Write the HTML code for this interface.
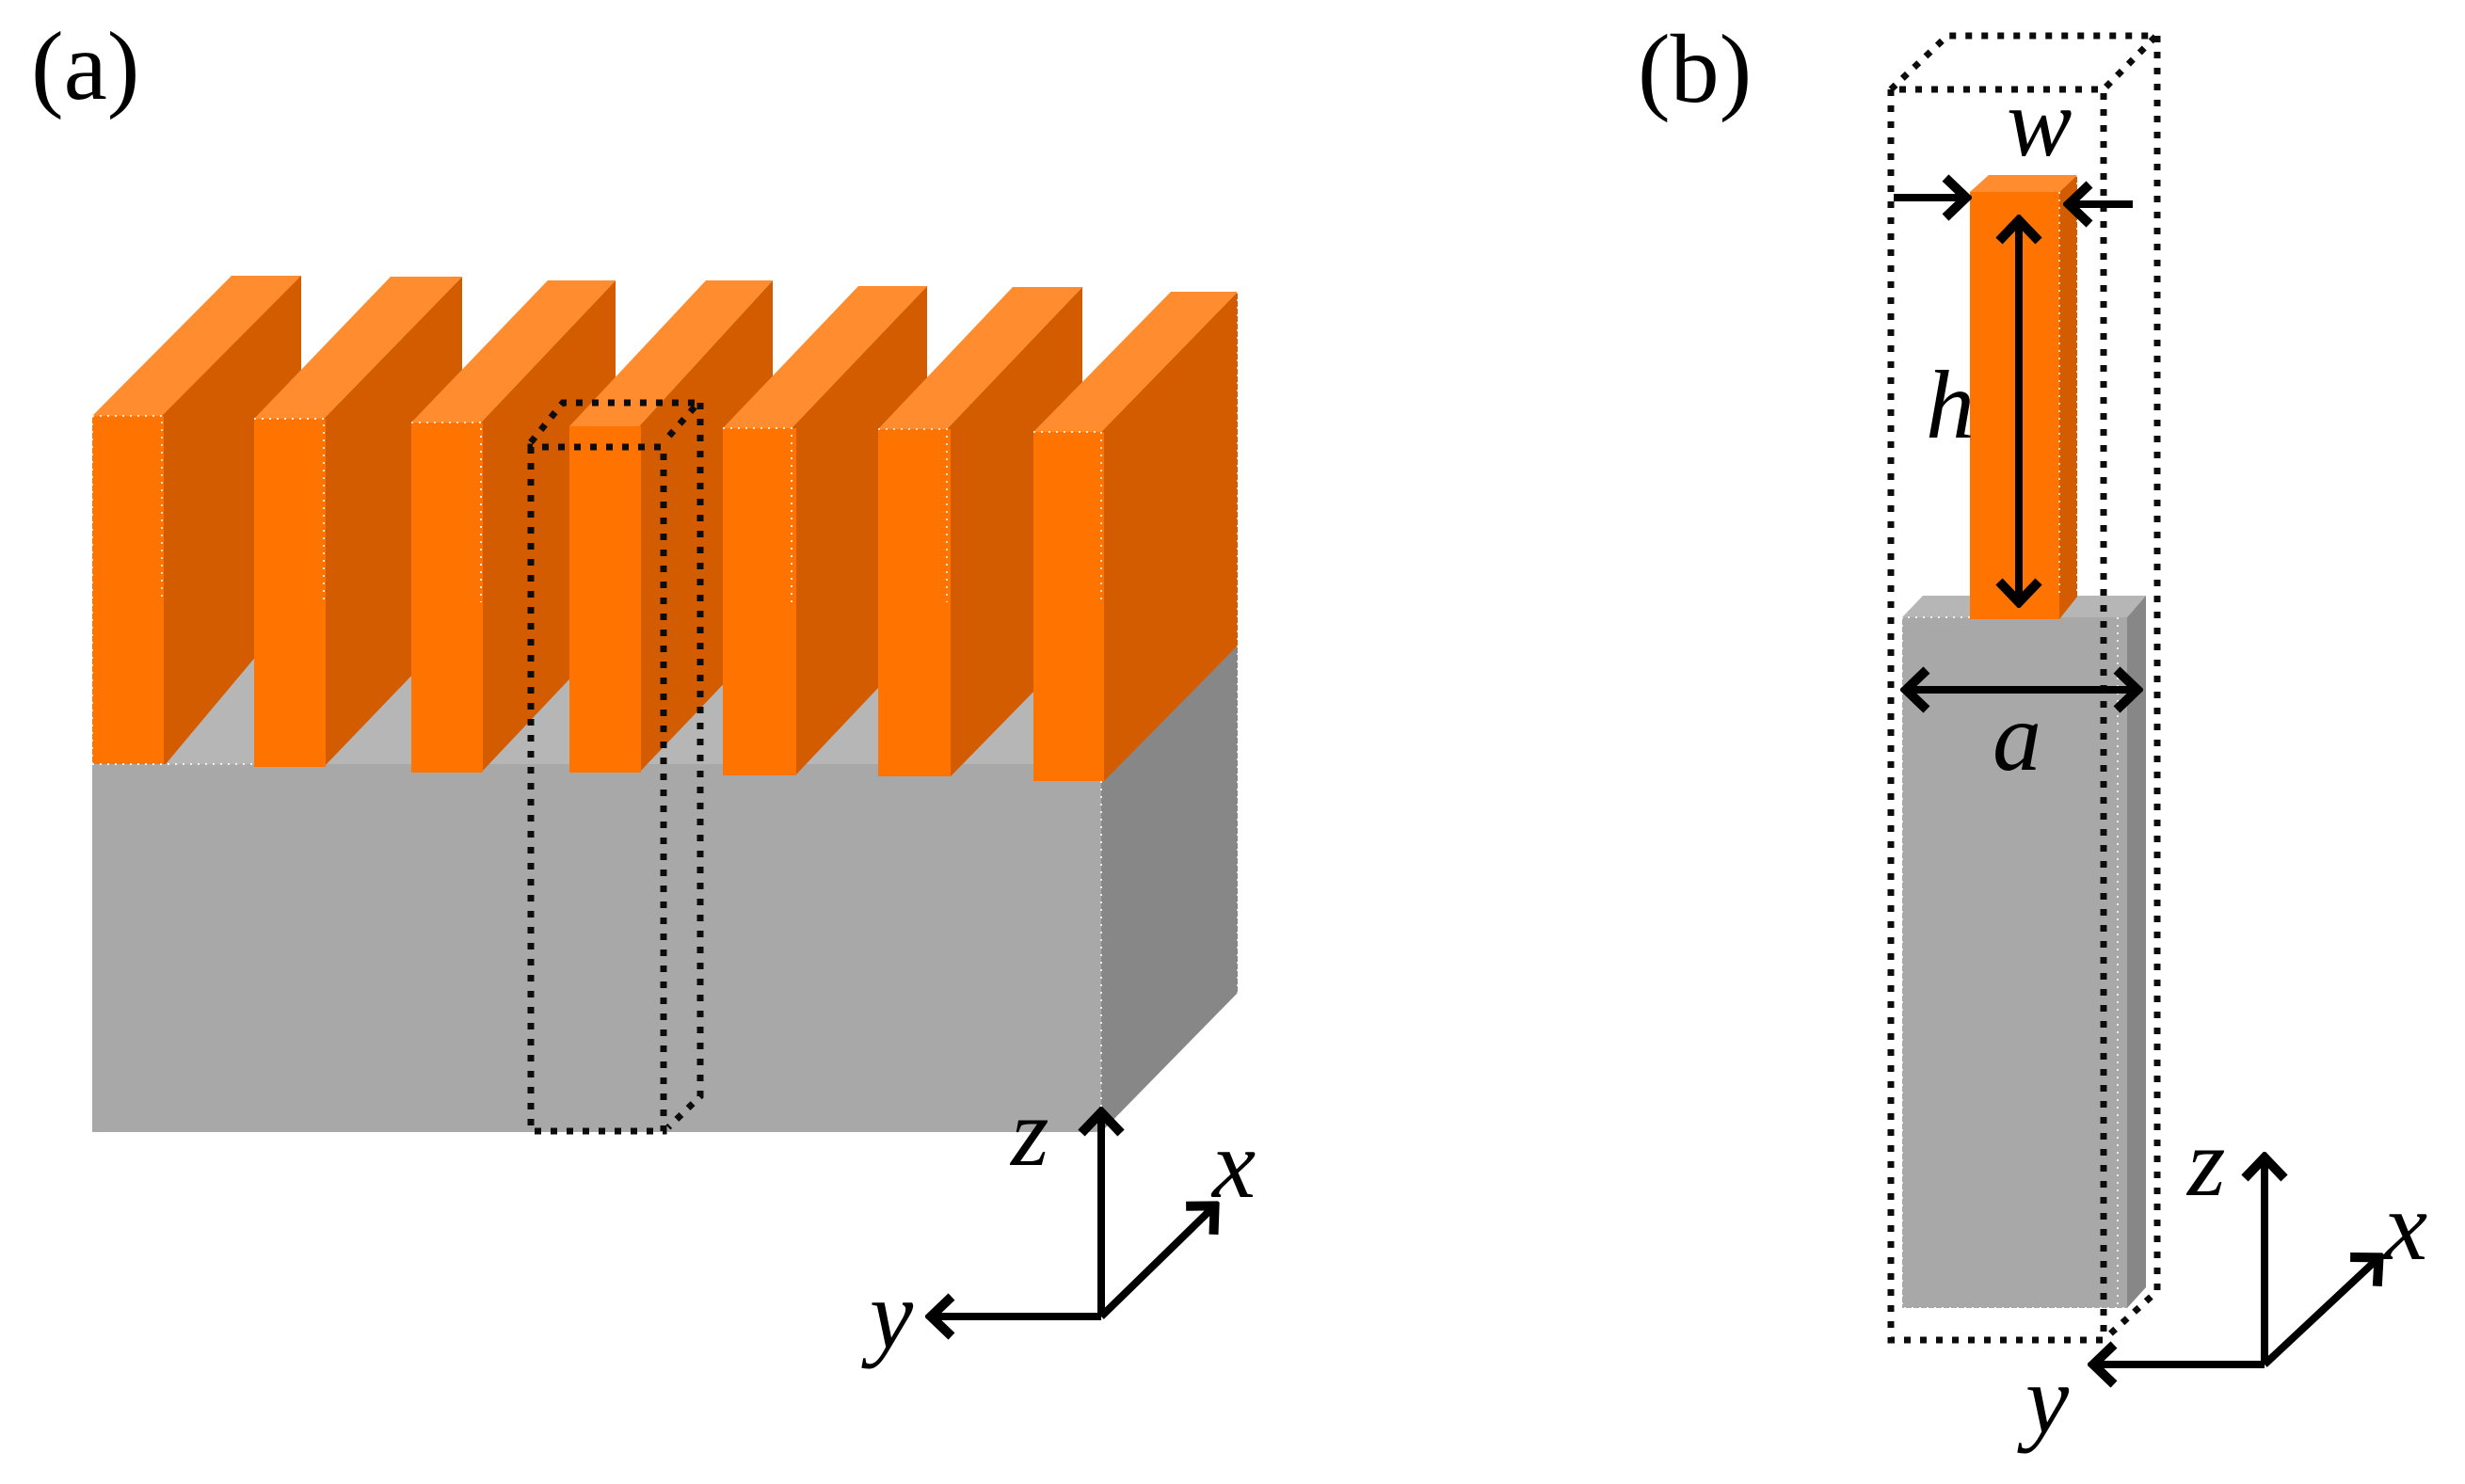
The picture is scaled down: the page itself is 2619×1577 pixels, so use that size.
<!DOCTYPE html>
<html><head><meta charset="utf-8"><style>html,body{margin:0;padding:0;background:#fff}svg{display:block}text{font-family:"Liberation Serif",serif;fill:#000}.i{font-style:italic;font-size:104px}</style></head><body>
<svg xmlns="http://www.w3.org/2000/svg" width="2619" height="1577" viewBox="0 0 2619 1577">
<defs>
<marker id="ab" viewBox="0 0 50 50" refX="46" refY="25" markerWidth="50" markerHeight="50" markerUnits="userSpaceOnUse" orient="auto-start-reverse"><path d="M22 4 L44 25 L22 46" fill="none" stroke="#000" stroke-width="10"/></marker>
</defs>
<rect width="2619" height="1577" fill="#fff"/>
<text x="33" y="105" font-size="104">(a)</text>
<text x="1740" y="108" font-size="104">(b)</text>

<!-- panel a base -->
<polygon points="98,812 246,600 1315,686 1170,830" fill="#b6b6b6"/>
<polygon points="1170,830 1315,686 1315,1055 1170,1203" fill="#878787"/>
<rect x="98" y="812" width="1072" height="391" fill="#a8a8a8"/>

<!-- fins a -->
<g>
<polygon points="172,442 246,293 320,293 320,640 176,812 172,812" fill="#d45c00"/><polygon points="98,442 246,293 320,293 172,442" fill="#ff8c2e"/><rect x="98" y="442" width="76" height="370" fill="#ff7300"/>
<polygon points="344,445 491,294 491,662 344,815" fill="#d45c00"/><polygon points="270,445 415,294 491,294 344,445" fill="#ff8c2e"/><rect x="270" y="445" width="76" height="370" fill="#ff7300"/>
<polygon points="511,449 654,298 654,670 511,821" fill="#d45c00"/><polygon points="437,449 582,298 654,298 511,449" fill="#ff8c2e"/><rect x="437" y="449" width="76" height="372" fill="#ff7300"/>
<polygon points="679,453 821,298 821,672 679,821" fill="#d45c00"/><polygon points="605,453 750,298 821,298 679,453" fill="#ff8c2e"/><rect x="605" y="453" width="76" height="368" fill="#ff7300"/>
<polygon points="841,455 985,304 985,676 845,824 841,824" fill="#d45c00"/><polygon points="768,455 912,304 985,304 841,455" fill="#ff8c2e"/><rect x="768" y="455" width="78" height="369" fill="#ff7300"/>
<polygon points="1006,456 1150,305 1150,682 1010,825 1006,825" fill="#d45c00"/><polygon points="933,456 1076,305 1150,305 1006,456" fill="#ff8c2e"/><rect x="933" y="456" width="77" height="369" fill="#ff7300"/>
<polygon points="1170,459 1315,310 1315,686 1173,830 1170,830" fill="#d45c00"/><polygon points="1098,459 1244,310 1315,310 1170,459" fill="#ff8c2e"/><rect x="1098" y="459" width="75" height="371" fill="#ff7300"/>
</g>
<g fill="none" stroke="#fff" stroke-width="2" stroke-dasharray="2 6" opacity=".8">
<path d="M98 442H172V640M270 445H344V640M437 449H511V640M768 455H841V640M933 456H1006V640M1098 459H1170V640"/>
<path d="M98 812H270M1170 830V1190M1315 310V1055M98 442V812"/>
</g>

<!-- dotted box a -->
<g fill="none" stroke="#0c0c0c" stroke-width="7" stroke-dasharray="7 10">
<path d="M564 475 V1202 H705 V475 Z"/>
<path d="M564 470 L598 428 H742 L705 470"/>
<path d="M744 428 V1165 L710 1198"/>
</g>

<!-- axes a -->
<g fill="none" stroke="#000" stroke-width="8">
<path d="M1170 1399 V1180" marker-end="url(#ab)"/>
<path d="M1170 1399 L1292 1280" marker-end="url(#ab)"/>
<path d="M1170 1399 H987" marker-end="url(#ab)"/>
</g>
<text class="i" x="1074" y="1238">z</text>
<text class="i" x="1288" y="1272">x</text>
<text class="i" x="924" y="1432">y</text>

<!-- panel b -->
<polygon points="2021,656 2043,633 2280,633 2260,656" fill="#b6b6b6"/>
<polygon points="2260,656 2280,633 2280,1368 2260,1390" fill="#878787"/>
<rect x="2021" y="656" width="239" height="734" fill="#a8a8a8"/>
<polygon points="2188,204 2207,186 2207,634 2188,658" fill="#d45c00"/>
<polygon points="2093,204 2113,186 2207,186 2188,204" fill="#ff8c2e"/>
<rect x="2093" y="204" width="95" height="454" fill="#ff7300"/>
<g fill="none" stroke="#fff" stroke-width="2" stroke-dasharray="2 6" opacity=".8">
<path d="M2188 204V634M2207 186V634M2021 656V1390H2260M2027 656H2093M2250 656V1390"/>
</g>

<g fill="none" stroke="#0c0c0c" stroke-width="7" stroke-dasharray="7 10">
<path d="M2009 95 V1424 H2235 V95 Z"/>
<path d="M2009 95 L2069 38 H2291 L2235 95"/>
<path d="M2292 38 V1372 L2237 1422"/>
</g>

<g fill="none" stroke="#000" stroke-width="8">
<path d="M2145 642 V232" marker-start="url(#ab)" marker-end="url(#ab)"/>
<path d="M2023 733 H2273" marker-start="url(#ab)" marker-end="url(#ab)"/>
<path d="M2012 210 H2091" marker-end="url(#ab)"/>
<path d="M2266 217 H2196" marker-end="url(#ab)"/>
<path d="M2406 1450 V1228" marker-end="url(#ab)"/>
<path d="M2406 1450 L2529 1335" marker-end="url(#ab)"/>
<path d="M2406 1450 H2222" marker-end="url(#ab)"/>
</g>
<text class="i" x="2132" y="165">w</text>
<text class="i" x="2046" y="465">h</text>
<text class="i" x="2117" y="818">a</text>
<text class="i" x="2324" y="1270">z</text>
<text class="i" x="2533" y="1338">x</text>
<text class="i" x="2152" y="1522">y</text>
</svg>
</body></html>
